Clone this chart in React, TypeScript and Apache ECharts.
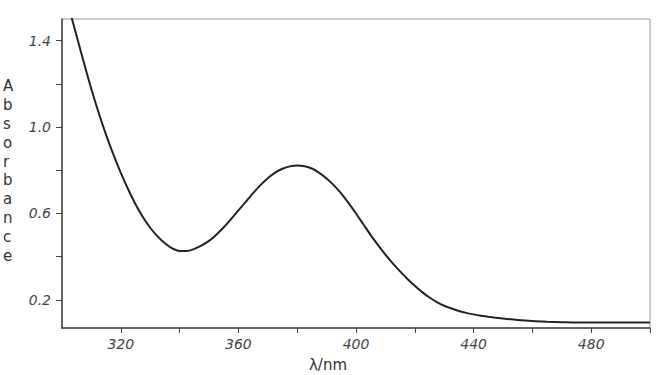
import React, { useEffect, useRef } from "react";
import * as echarts from "echarts";

const wavelengths = [302.5, 305, 307.5, 310, 312.5, 315, 317.5, 320, 322.5, 325, 327.5, 330, 332.5, 335, 337.5, 340, 342.5, 345, 347.5, 350, 352.5, 355, 357.5, 360, 362.5, 365, 367.5, 370, 372.5, 375, 377.5, 380, 382.5, 385, 387.5, 390, 392.5, 395, 397.5, 400, 402.5, 405, 407.5, 410, 412.5, 415, 417.5, 420, 422.5, 425, 427.5, 430, 432.5, 435, 437.5, 440, 442.5, 445, 450, 455, 460, 465, 470, 480, 490, 500];
const absorbance = [1.545, 1.42, 1.295, 1.175, 1.065, 0.964, 0.872, 0.788, 0.712, 0.643, 0.584, 0.534, 0.494, 0.462, 0.438, 0.426, 0.426, 0.436, 0.452, 0.473, 0.502, 0.536, 0.574, 0.614, 0.654, 0.694, 0.731, 0.763, 0.789, 0.807, 0.818, 0.822, 0.819, 0.808, 0.788, 0.762, 0.73, 0.692, 0.648, 0.6, 0.55, 0.5, 0.454, 0.41, 0.369, 0.332, 0.297, 0.265, 0.236, 0.211, 0.19, 0.173, 0.16, 0.149, 0.14, 0.133, 0.127, 0.122, 0.114, 0.107, 0.102, 0.099, 0.097, 0.095, 0.095, 0.095];

const xTickValues = [320, 340, 360, 380, 400, 420, 440, 460, 480, 500];
const xLabelValues = [320, 360, 400, 440, 480];
const yTickValues = [0.2, 0.4, 0.6, 0.8, 1.0, 1.2, 1.4];
const yLabelValues = [0.2, 0.6, 1.0, 1.4];
const yTitle = "Absorbance";
const xTitle = "λ/nm";

export default function App() {
  const ref = useRef<HTMLDivElement>(null);
  useEffect(() => {
    if (!ref.current) return;
    const chart = echarts.init(ref.current, null, { renderer: "svg" });
    const labelStyle = {
      fontFamily: "DejaVu Sans",
      fontStyle: "italic",
      fontSize: 14,
      color: "#444",
    };
    chart.setOption({
      animation: false,
      backgroundColor: "#fff",
      grid: {
        left: 62,
        right: 12,
        top: 19,
        bottom: 47,
        show: true,
        borderColor: "#999",
        borderWidth: 1,
      },
      xAxis: {
        type: "value",
        min: 300,
        max: 500,
        splitLine: { show: false },
        axisLine: { show: true, lineStyle: { color: "#444", width: 1.5 } },
        axisTick: {
          show: true,
          length: 5,
          inside: false,
          customValues: xTickValues,
          lineStyle: { color: "#444", width: 1 },
        },
        axisLabel: {
          ...labelStyle,
          margin: 9,
          customValues: xLabelValues,
          formatter: (v: number) => String(v),
        },
      },
      yAxis: {
        type: "value",
        min: 0.07,
        max: 1.5,
        splitLine: { show: false },
        axisLine: { show: true, lineStyle: { color: "#444", width: 1.5 } },
        axisTick: {
          show: true,
          length: 6,
          inside: false,
          customValues: yTickValues,
          lineStyle: { color: "#444", width: 1 },
        },
        axisLabel: {
          ...labelStyle,
          margin: 11,
          customValues: yLabelValues,
          formatter: (v: number) => v.toFixed(1),
        },
      },
      graphic: [
        {
          type: "text",
          left: 3,
          top: 77,
          style: {
            text: yTitle.split("").join("\n"),
            fontFamily: "DejaVu Sans",
            fontSize: 15,
            lineHeight: 18.8,
            fill: "#333",
            align: "center",
            width: 14,
          },
        },
        {
          type: "text",
          x: 328,
          y: 365,
          style: {
            text: xTitle,
            fontFamily: "DejaVu Sans",
            fontSize: 15,
            fill: "#333",
            align: "center",
            verticalAlign: "middle",
          },
        },
      ],
      series: [
        {
          type: "line",
          data: wavelengths.map((w, i) => [w, absorbance[i]]),
          smooth: 0.3,
          showSymbol: false,
          clip: true,
          lineStyle: { color: "#222", width: 2 },
        },
      ],
    });
    return () => chart.dispose();
  }, []);
  return (
    <div
      ref={ref}
      style={{ position: "absolute", left: 0, top: 0, width: 662, height: 375 }}
    />
  );
}
